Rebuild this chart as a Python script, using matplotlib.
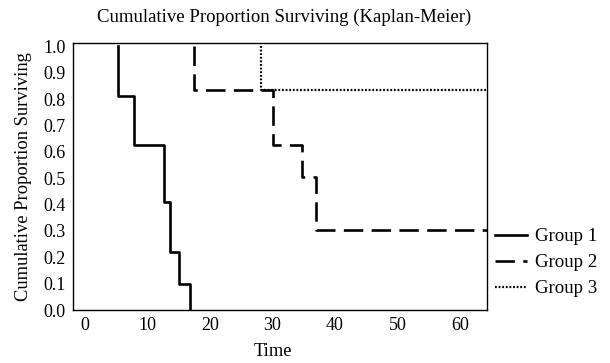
import numpy as np
import matplotlib.pyplot as plt
import matplotlib as mpl

mpl.rcParams['font.family'] = ['Liberation Serif', 'DejaVu Serif']
mpl.rcParams['lines.scale_dashes'] = False

# step data (time of each drop, survival after it)
g1_time = [5.3, 5.3, 7.8, 12.6, 13.6, 15.0, 16.8]
g1_surv = [1.0, 0.8125, 0.625, 0.41, 0.22, 0.10, 0.0]

g2_time = [17.4, 17.4, 30.0, 34.7, 37.0, 64.3]
g2_surv = [1.0, 0.833, 0.625, 0.505, 0.303, 0.303]

g3_time = [28.2, 28.2, 64.3]
g3_surv = [1.0, 0.833, 0.833]

x_ticks = [0, 10, 20, 30, 40, 50, 60]
y_ticks = [0.0, 0.1, 0.2, 0.3, 0.4, 0.5, 0.6, 0.7, 0.8, 0.9, 1.0]

fig = plt.figure(figsize=(6.1, 3.63), dpi=100)
ax = fig.add_axes([0.119, 0.146, 0.679, 0.736])

ax.step(g1_time, g1_surv, where='post', color='black', lw=1.9, label='Group 1')
ax.step(g2_time, g2_surv, where='post', color='black', lw=1.9, dashes=(14, 6), label='Group 2')
ax.step(g3_time, g3_surv, where='post', color='black', lw=1.6, dashes=(1.3, 1.3), label='Group 3')

ax.set_xlim(-2, 64.3)
ax.set_ylim(0, 1.013)
ax.set_xticks(x_ticks)
ax.set_yticks(y_ticks)
ax.set_yticklabels(['{:.1f}'.format(v) for v in y_ticks])
ax.tick_params(length=0, labelsize=13, pad=5)

ax.set_xlabel('Time', fontsize=13.3, labelpad=9)
ax.xaxis.set_label_coords(0.484, -0.125)
ax.set_ylabel('Cumulative Proportion Surviving', fontsize=13.3, labelpad=8)
ax.set_title('Cumulative Proportion Surviving (Kaplan-Meier)', fontsize=13.5, pad=15, x=0.51)

for s in ax.spines.values():
    s.set_linewidth(1.0)

leg = ax.legend(loc='center left', bbox_to_anchor=(1.02, 0.177), frameon=False,
                fontsize=13.6, handlelength=1.7, handletextpad=0.42, labelspacing=0.46,
                borderaxespad=0, borderpad=0)

fig.savefig('out.png', dpi=100)
